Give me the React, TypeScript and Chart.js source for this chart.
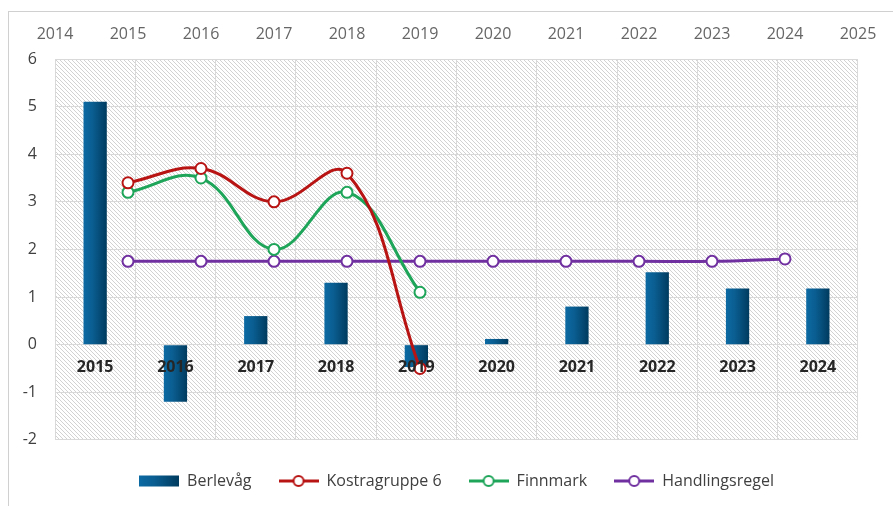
import React, { useEffect, useRef } from 'react';
import { Chart, registerables } from 'chart.js';

Chart.register(...registerables);

const categories = ['2015', '2016', '2017', '2018', '2019', '2020', '2021', '2022', '2023', '2024'];
const topYears = ['2014', '2015', '2016', '2017', '2018', '2019', '2020', '2021', '2022', '2023', '2024', '2025'];
const berlevag = [5.1, -1.2, 0.6, 1.3, -0.47, 0.12, 0.8, 1.52, 1.18, 1.18];

const kostraYears = ['2015', '2016', '2017', '2018', '2019'];
const kostragruppe6 = [3.4, 3.7, 3.0, 3.6, -0.5];

const finnmarkYears = ['2015', '2016', '2017', '2018', '2019'];
const finnmark = [3.2, 3.5, 2.0, 3.2, 1.1];

const regelYears = ['2015', '2016', '2017', '2018', '2019', '2020', '2021', '2022', '2023', '2024'];
const handlingsregel = [1.75, 1.75, 1.75, 1.75, 1.75, 1.75, 1.75, 1.75, 1.75, 1.8];

const yMin = -2;
const yMax = 6;

const FONT = "'Open Sans', 'DejaVu Sans', sans-serif";
const BAR_LIGHT = '#0c6aa3';
const BAR_MID = '#0a5d90';
const BAR_DARK = '#003b5f';
const RED = '#b81414';
const GREEN = '#1fa55a';
const PURPLE = '#7030a0';
const GRID = '#d9d9d9';
const BAR_FRACTION = 0.29;

function toPoints(xs: string[], ys: number[]) {
  return xs.map((x, i) => ({ x, y: ys[i] }));
}

function makeHatch(): CanvasPattern | string {
  const c = document.createElement('canvas');
  c.width = 4;
  c.height = 4;
  const g = c.getContext('2d');
  if (!g) return '#eee';
  g.fillStyle = '#ffffff';
  g.fillRect(0, 0, 4, 4);
  g.strokeStyle = '#d2d2d2';
  g.lineWidth = 1;
  g.beginPath();
  g.moveTo(-1, -1);
  g.lineTo(5, 5);
  g.moveTo(-1, 3);
  g.lineTo(1, 5);
  g.moveTo(3, -1);
  g.lineTo(5, 1);
  g.stroke();
  const p = g.createPattern(c, 'repeat');
  return p || '#eee';
}

function barSwatch(): HTMLCanvasElement {
  const c = document.createElement('canvas');
  c.width = 40;
  c.height = 14;
  const g = c.getContext('2d')!;
  const grad = g.createLinearGradient(0, 0, 40, 0);
  grad.addColorStop(0, BAR_LIGHT);
  grad.addColorStop(0.4, BAR_MID);
  grad.addColorStop(1, BAR_DARK);
  g.fillStyle = grad;
  g.fillRect(0, 1.5, 40, 11);
  return c;
}

function lineSwatch(color: string): HTMLCanvasElement {
  const c = document.createElement('canvas');
  c.width = 40;
  c.height = 14;
  const g = c.getContext('2d')!;
  g.strokeStyle = color;
  g.lineWidth = 3;
  g.beginPath();
  g.moveTo(0, 7);
  g.lineTo(40, 7);
  g.stroke();
  g.beginPath();
  g.arc(20, 7, 5, 0, Math.PI * 2);
  g.fillStyle = '#ffffff';
  g.fill();
  g.lineWidth = 2;
  g.stroke();
  return c;
}

export default function App() {
  const ref = useRef<HTMLCanvasElement | null>(null);

  useEffect(() => {
    if (!ref.current) return;
    const hatch = makeHatch();
    const swatches = [barSwatch(), lineSwatch(RED), lineSwatch(GREEN), lineSwatch(PURPLE)];

    const bgPlugin = {
      id: 'bgPlugin',
      beforeDraw(chart: any) {
        const { ctx, chartArea: a } = chart;
        ctx.save();
        ctx.fillStyle = '#ffffff';
        ctx.fillRect(0, 0, chart.width, chart.height);
        ctx.fillStyle = hatch as any;
        ctx.fillRect(a.left, a.top, a.right - a.left, a.bottom - a.top);
        ctx.strokeStyle = '#d0d0d0';
        ctx.lineWidth = 1;
        ctx.strokeRect(8.5, 11.5, 2000, 2000);
        ctx.restore();
      },
    };

    const lineDs = (label: string, xs: string[], ys: number[], color: string) => ({
      type: 'line' as const,
      label,
      data: toPoints(xs, ys),
      xAxisID: 'x2',
      yAxisID: 'y',
      borderColor: color,
      backgroundColor: '#ffffff',
      borderWidth: 3,
      tension: 0.4,
      pointRadius: 5.5,
      pointBorderWidth: 2,
      pointBackgroundColor: '#ffffff',
      pointBorderColor: color,
      fill: false,
      order: 1,
    });

    const chart = new Chart(ref.current, {
      type: 'bar',
      data: {
        labels: categories,
        datasets: [
          {
            type: 'bar',
            label: 'Berlevåg',
            data: berlevag,
            xAxisID: 'x',
            yAxisID: 'y',
            grouped: false,
            barPercentage: BAR_FRACTION,
            categoryPercentage: 1,
            order: 2,
            backgroundColor: (c: any) => {
              const ch = c.chart;
              const xs = ch.scales && ch.scales.x;
              const area = ch.chartArea;
              if (!xs || !area || c.dataIndex === undefined) return BAR_DARK;
              const cx = xs.getPixelForValue(c.dataIndex);
              const w = ((area.right - area.left) / categories.length) * BAR_FRACTION;
              const g = ch.ctx.createLinearGradient(cx - w / 2, 0, cx + w / 2, 0);
              g.addColorStop(0, BAR_LIGHT);
              g.addColorStop(0.4, BAR_MID);
              g.addColorStop(1, BAR_DARK);
              return g;
            },
          } as any,
          lineDs('Kostragruppe 6', kostraYears, kostragruppe6, RED),
          lineDs('Finnmark', finnmarkYears, finnmark, GREEN),
          lineDs('Handlingsregel', regelYears, handlingsregel, PURPLE),
        ],
      },
      options: {
        responsive: false,
        animation: false,
        layout: { padding: { left: 0, right: 35, top: 0, bottom: 7 } },
        scales: {
          x: {
            type: 'category',
            position: { y: 0 } as any,
            offset: true,
            grid: { color: GRID, drawTicks: false, offset: true, lineWidth: 1 },
            border: { display: false },
            ticks: {
              z: 1,
              color: '#262626',
              font: { family: FONT, size: 16, weight: 'bold' },
              padding: 13,
              maxRotation: 0,
              autoSkip: false,
            },
          },
          x2: {
            type: 'category',
            labels: topYears,
            position: 'top',
            offset: false,
            grid: { display: false, drawTicks: false },
            border: { display: false },
            ticks: {
              color: '#666666',
              font: { family: FONT, size: 16 },
              padding: 15,
              maxRotation: 0,
              autoSkip: false,
            },
            afterFit: (s: any) => {
              s.height = 59;
            },
          },
          y: {
            type: 'linear',
            position: 'left',
            min: yMin,
            max: yMax,
            grid: { color: GRID, drawTicks: false, lineWidth: 1 },
            border: { display: false },
            ticks: {
              stepSize: 1,
              color: '#404040',
              font: { family: FONT, size: 16 },
              padding: 18,
            },
            afterFit: (s: any) => {
              s.width = 55;
            },
          },
        },
        plugins: {
          tooltip: { enabled: false },
          legend: {
            display: true,
            position: 'bottom',
            fullSize: false,
            title: { display: true, text: '', padding: { top: 6, bottom: 0 }, font: { size: 0.1 } },
            labels: {
              usePointStyle: true,
              pointStyleWidth: 40,
              padding: 27,
              color: '#404040',
              font: { family: FONT, size: 16 },
              generateLabels: (ch: any) =>
                ch.data.datasets.map((ds: any, i: number) => ({
                  text: ds.label,
                  pointStyle: swatches[i],
                  datasetIndex: i,
                  hidden: false,
                  fillStyle: 'transparent',
                  strokeStyle: 'transparent',
                  lineWidth: 0,
                  fontColor: '#404040',
                })),
            },
          },
        },
      },
      plugins: [bgPlugin],
    } as any);

    return () => {
      chart.destroy();
    };
  }, []);

  return (
    <canvas
      ref={ref}
      width={893}
      height={506}
      style={{ position: 'fixed', left: 0, top: 0, width: 893, height: 506, display: 'block' }}
    />
  );
}
